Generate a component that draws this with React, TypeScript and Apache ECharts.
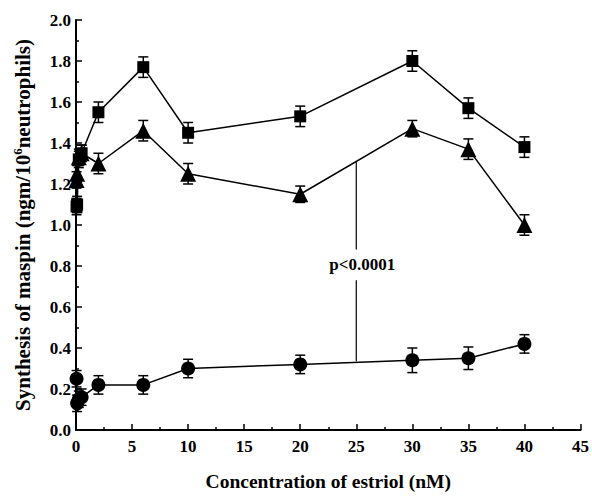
import React, { useEffect, useRef } from "react";
import * as echarts from "echarts";

const concentrations = [0.05, 0.1, 0.25, 0.5, 2, 6, 10, 20, 30, 35, 40];
const squareValues = [1.09, 1.1, 1.32, 1.35, 1.55, 1.77, 1.45, 1.53, 1.8, 1.57, 1.38];
const squareErrors = [0.04, 0.04, 0.04, 0.04, 0.05, 0.05, 0.05, 0.05, 0.05, 0.05, 0.05];
const triangleValues = [1.22, 1.25, 1.33, 1.35, 1.3, 1.46, 1.25, 1.15, 1.47, 1.37, 1.0];
const triangleErrors = [0.04, 0.04, 0.04, 0.04, 0.05, 0.05, 0.05, 0.04, 0.04, 0.05, 0.05];
const circleValues = [0.25, 0.13, 0.15, 0.16, 0.22, 0.22, 0.3, 0.32, 0.34, 0.35, 0.42];
const circleErrors = [0.04, 0.04, 0.04, 0.04, 0.045, 0.045, 0.045, 0.045, 0.06, 0.055, 0.045];

const annotationX = 25;
const annotationSegments = [
  [1.31, 0.88],
  [0.73, 0.335],
];
const annotationTextY = 0.805;
const annotationText = "p<0.0001";

const xTicks = { min: 0, max: 45, interval: 5 };
const yTicks = { min: 0, max: 2, interval: 0.2 };

const FONT = "Liberation Serif";

function errorSeries(values: number[], errors: number[]) {
  return {
    type: "custom",
    silent: true,
    z: 3,
    data: concentrations.map((x, i) => [x, values[i] - errors[i], values[i] + errors[i]]),
    renderItem: (params: any, api: any) => {
      const x = api.value(0);
      const lo = api.coord([x, api.value(1)]);
      const hi = api.coord([x, api.value(2)]);
      const cap = 5;
      const style = { stroke: "#000", lineWidth: 1.5 };
      return {
        type: "group",
        children: [
          { type: "line", shape: { x1: lo[0], y1: lo[1], x2: hi[0], y2: hi[1] }, style },
          { type: "line", shape: { x1: lo[0] - cap, y1: lo[1], x2: lo[0] + cap, y2: lo[1] }, style },
          { type: "line", shape: { x1: hi[0] - cap, y1: hi[1], x2: hi[0] + cap, y2: hi[1] }, style },
        ],
      };
    },
  };
}

function lineSeries(values: number[], symbol: string, size: number) {
  return {
    type: "line",
    data: concentrations.map((x, i) => [x, values[i]]),
    symbol,
    symbolSize: size,
    showAllSymbol: true,
    z: 4,
    lineStyle: { color: "#000", width: 1.5 },
    itemStyle: { color: "#000", borderColor: "#000", borderWidth: 0 },
  };
}

export default function App() {
  const ref = useRef<HTMLDivElement>(null);
  useEffect(() => {
    if (!ref.current) return;
    const chart = echarts.init(ref.current, undefined, { renderer: "svg" });
    const axisLabel = { color: "#000", fontFamily: FONT, fontWeight: "bold", fontSize: 17 };
    chart.setOption({
      animation: false,
      backgroundColor: "#fff",
      grid: { left: 76, right: 8, top: 20, bottom: 60 },
      xAxis: {
        type: "value",
        min: xTicks.min,
        max: xTicks.max,
        interval: xTicks.interval,
        name: "Concentration of estriol (nM)",
        nameLocation: "middle",
        nameGap: 41,
        nameTextStyle: { color: "#000", fontFamily: FONT, fontWeight: "bold", fontSize: 19.5 },
        axisLine: { lineStyle: { color: "#000", width: 2 } },
        axisTick: { inside: true, length: 6, lineStyle: { color: "#000", width: 1.5 } },
        minorTick: { show: true, splitNumber: 2, length: 3, lineStyle: { color: "#000", width: 1.5 } },
        splitLine: { show: false },
        axisLabel: { ...axisLabel, margin: 8, showMaxLabel: true },
      },
      yAxis: {
        type: "value",
        min: yTicks.min,
        max: yTicks.max,
        interval: yTicks.interval,
        name: "{a|Synthesis of maspin (ngm/10}{s|6}{a|neutrophils)}",
        nameLocation: "middle",
        nameGap: 42,
        nameTextStyle: {
          color: "#000",
          fontFamily: FONT,
          fontWeight: "bold",
          fontSize: 21,
          rich: {
            a: { color: "#000", fontFamily: FONT, fontWeight: "bold", fontSize: 21 },
            s: { color: "#000", fontFamily: FONT, fontWeight: "bold", fontSize: 13, verticalAlign: "top", padding: [0, 0, 10, 0] },
          },
        },
        axisLine: { show: true, lineStyle: { color: "#000", width: 2 } },
        axisTick: { show: true, inside: true, length: 6, lineStyle: { color: "#000", width: 1.5 } },
        minorTick: { show: true, splitNumber: 2, length: 3, lineStyle: { color: "#000", width: 1.5 } },
        splitLine: { show: false },
        axisLabel: { ...axisLabel, margin: 5, formatter: (v: number) => v.toFixed(1) },
      },
      series: [
        errorSeries(squareValues, squareErrors),
        errorSeries(triangleValues, triangleErrors),
        errorSeries(circleValues, circleErrors),
        lineSeries(squareValues, "rect", 12),
        lineSeries(triangleValues, "triangle", 16),
        lineSeries(circleValues, "circle", 14),
        {
          type: "custom",
          silent: true,
          z: 2,
          data: annotationSegments.map((s) => [annotationX, s[0], s[1]]),
          renderItem: (params: any, api: any) => {
            const a = api.coord([api.value(0), api.value(1)]);
            const b = api.coord([api.value(0), api.value(2)]);
            return {
              type: "line",
              shape: { x1: a[0], y1: a[1], x2: b[0], y2: b[1] },
              style: { stroke: "#000", lineWidth: 1.2 },
            };
          },
        },
        {
          type: "custom",
          silent: true,
          z: 2,
          data: [[annotationX, annotationTextY]],
          renderItem: (params: any, api: any) => {
            const p = api.coord([api.value(0), api.value(1)]);
            return {
              type: "text",
              x: p[0] + 6,
              y: p[1],
              style: {
                text: annotationText,
                fill: "#000",
                font: `bold 17px "${FONT}"`,
                align: "center",
                verticalAlign: "middle",
              },
            };
          },
        },
      ],
    });
    return () => chart.dispose();
  }, []);
  return <div ref={ref} style={{ width: 592, height: 496, position: "absolute", left: 0, top: 0 }} />;
}
